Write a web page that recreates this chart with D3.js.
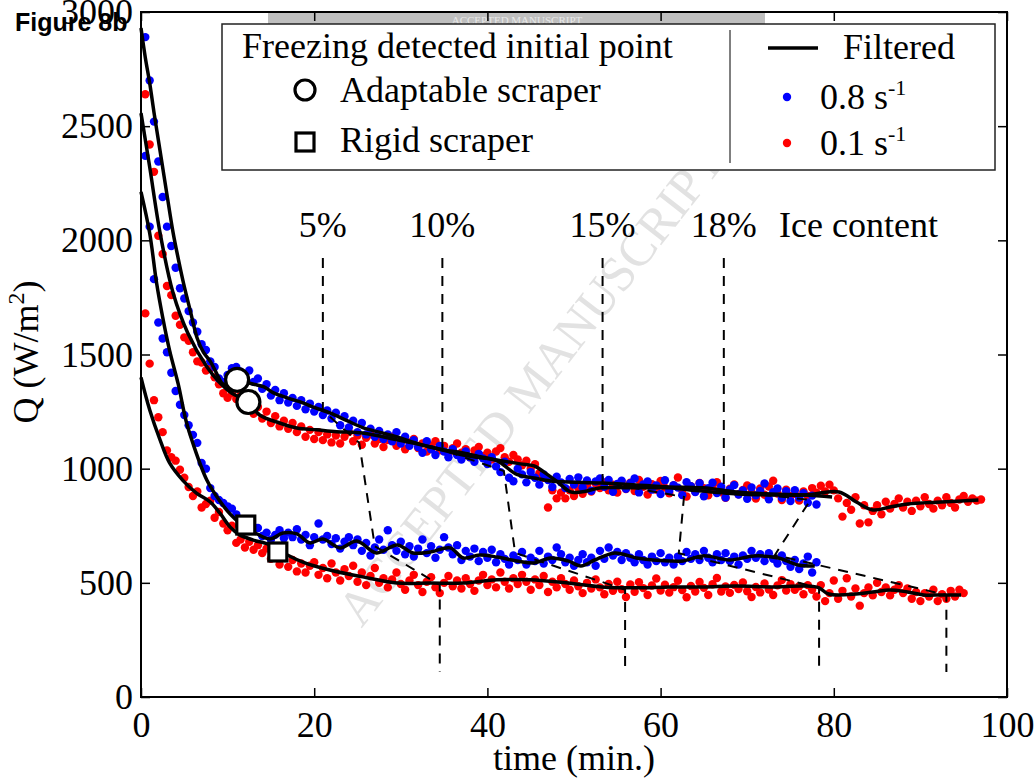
<!DOCTYPE html>
<html>
<head>
<meta charset="utf-8">
<script src="https://cdn.jsdelivr.net/npm/d3@7"></script>
<style>
body { margin: 0; background: #fff; }
svg { display: block; font-family: "Liberation Serif", "Times New Roman", serif; }
</style>
</head>
<body>
<svg id="chart" width="1034" height="783"></svg>
<script>
// ---- data (time in min, Q in W/m2) ----
// raw samples, one every half minute starting at t = 0.5
const sampleStart = 0.5, sampleStep = 0.5;

// adaptable scraper, 0.8 s-1 (blue, upper)
const adapt08 = [
  2890, 2700, 2520, 2345, 2190, 2060, 1975, 1880, 1790, 1745,
  1690, 1640, 1600, 1545, 1520, 1470, 1445, 1395, 1380, 1410,
  1440, 1445, 1425, 1400, 1430, 1380, 1395, 1350, 1370, 1320,
  1345, 1300, 1330, 1290, 1310, 1275, 1300, 1260, 1285, 1250,
  1270, 1235, 1255, 1220, 1245, 1190, 1230, 1180, 1210, 1160,
  1200, 1150, 1175, 1140, 1165, 1130, 1150, 1120, 1160, 1110,
  1140, 1100, 1125, 1095, 1070, 1120, 1085, 1060, 1100, 1075,
  1050, 1085, 1060, 1040, 1075, 1050, 1030, 1065, 1045, 1020,
  1050, 1010, 985, 1030, 960, 945, 1000, 975, 940, 985,
  960, 930, 975, 950, 920, 965, 940, 915, 955, 930,
  962, 918, 948, 903, 944, 957, 921, 951, 899, 933,
  947, 912, 936, 957, 896, 931, 944, 908, 927, 889,
  949, 902, 928, 917, 884, 941, 923, 898, 936, 879,
  914, 938, 893, 921, 874, 909, 928, 887, 905, 868,
  918, 883, 902, 935, 866, 897, 913, 872, 901, 858,
  906, 874, 893, 851, 882, 843
];
// adaptable scraper, 0.1 s-1 (red, upper)
const adapt01 = [
  2640, 2420, 2300, 2020, 1940, 1800, 1760, 1670, 1630, 1575,
  1560, 1510, 1470, 1465, 1430, 1440, 1400, 1370, 1330, 1310,
  1330, 1305, 1320, 1290, 1300, 1240, 1270, 1220, 1250, 1200,
  1230, 1185, 1210, 1175, 1200, 1160, 1185, 1140, 1170, 1130,
  1160, 1125, 1150, 1115, 1145, 1110, 1140, 1160, 1120, 1145,
  1105, 1135, 1150, 1110, 1130, 1095, 1125, 1140, 1100, 1120,
  1085, 1115, 1130, 1090, 1110, 1075, 1100, 1120, 1080, 1100,
  1065, 1090, 1110, 1070, 1085, 1050, 1080, 1095, 1055, 1070,
  1040, 1075, 1090, 1050, 1030, 1060, 1040, 1015, 1035, 1000,
  1020, 980, 960, 830, 905, 870, 895, 870, 905, 880,
  915, 890, 925, 900, 935, 915, 940, 905, 930, 895,
  943, 911, 938, 902, 951, 921, 887, 932, 908, 946,
  917, 892, 927, 961, 904, 878, 923, 899, 937, 914,
  883, 918, 941, 897, 872, 912, 931, 888, 907, 926,
  896, 869, 913, 886, 922, 947, 891, 863, 908, 879,
  890, 860, 900, 880, 915, 895, 925, 900, 930, 905,
  870, 790, 850, 820, 875, 760, 840, 765, 815, 840,
  800, 855, 825, 845, 870, 830, 855, 815, 860, 835,
  875, 845, 825, 860, 840, 875, 850, 830, 865, 880,
  855, 870, 860, 865
];
// rigid scraper, 0.8 s-1 (blue, lower)
const rigid08 = [
  2370, 2060, 1830, 1640, 1570, 1510, 1420, 1340, 1280, 1235,
  1190, 1148, 1113, 1025, 1000, 915, 880, 863, 850, 835,
  825, 800, 775, 770, 755, 745, 740, 705, 720, 690,
  710, 730, 695, 720, 700, 735, 690, 710, 665, 700,
  760, 690, 705, 670, 695, 650, 680, 700, 665, 690,
  640, 675, 620, 655, 690, 645, 730, 665, 640, 680,
  625, 660, 615, 650, 690, 630, 660, 610, 645, 700,
  655, 625, 665, 600, 640, 615, 650, 595, 635, 610,
  645, 590, 625, 605, 580, 620, 600, 635, 580, 610,
  595, 640, 585, 615, 600, 655, 625, 590, 610, 575,
  600, 625, 590, 610, 575, 640, 605, 655, 620, 635,
  600, 630, 610, 590, 625, 600, 580, 615, 595, 630,
  590, 610, 580, 615, 595, 635, 605, 625, 600, 640,
  610, 590, 625, 600, 630, 595, 615, 580, 620, 605,
  640, 610, 625, 595, 630, 605, 585, 620, 595, 570,
  600, 560, 585, 615, 545, 590
];
// rigid scraper, 0.1 s-1 (red, lower)
const rigid01 = [
  1680, 1460, 1300, 1225, 1160, 1080, 1050, 1035, 995, 960,
  920, 880, 900, 830, 845, 860, 785, 810, 760, 730,
  750, 675, 690, 655, 680, 645, 665, 630, 650, 605,
  640, 580, 610, 570, 600, 550, 585, 545, 575, 590,
  535, 565, 520, 585, 545, 510, 560, 530, 575, 505,
  545, 490, 530, 565, 500, 520, 480, 515, 545, 495,
  470, 510, 535, 490, 460, 505, 525, 480, 455, 500,
  530, 485, 510, 475, 520, 495, 465, 510, 535, 490,
  515, 480, 545, 505, 475, 520, 495, 535, 505, 470,
  515, 490, 530, 460, 505, 480, 520, 495, 470, 510,
  485, 455, 500, 475, 515, 480, 450, 495, 465, 505,
  472, 438, 493, 461, 503, 477, 447, 488, 519, 466,
  492, 457, 481, 509, 468, 437, 486, 462, 504, 478,
  447, 494, 521, 462, 484, 456, 491, 473, 502, 463,
  438, 482, 458, 497, 471, 447, 489, 512, 466, 494,
  470, 485, 450, 490, 470, 440, 490, 420, 455, 510,
  430, 465, 520, 440, 475, 400, 455, 480, 445, 500,
  460, 480, 445, 470, 490, 455, 475, 430, 460, 420,
  455, 440, 470, 420, 450, 430, 465, 440, 470, 455
];

// filtered curves: times and values
const filtA08T = [0, 0.5, 1, 1.5, 2, 2.5, 3, 3.7, 4.3, 4.9, 5.7, 6.5, 7.2, 8.0, 8.7, 9.5, 10.3, 11.1, 12, 13, 14.2, 15.3, 16.9, 18.7, 20, 21.8, 23.8, 25.6, 27.5, 29.6, 31.5, 33.4, 35.3, 37.2, 39.2, 41.1, 43.4, 45.4, 47.3, 49.3, 53.2, 57.2, 61.0, 64.9, 68.8, 72.7, 76.7, 79.8];
const filtA08Q = [2930, 2800, 2690, 2560, 2440, 2320, 2200, 2035, 1920, 1814, 1690, 1570, 1510, 1470, 1420, 1370, 1375, 1389, 1380, 1370, 1358, 1332, 1310, 1288, 1268, 1244, 1210, 1180, 1160, 1139, 1115, 1095, 1080, 1069, 1052, 1035, 975, 959, 946, 942, 937, 929, 920, 916, 898, 889, 885, 876];
const filtA01T = [0, 1, 2.2, 3.7, 5.4, 7.6, 9.1, 10.5, 12.4, 13.7, 16.0, 18.0, 20.3, 22.6, 25.6, 29.6, 33.4, 37.2, 41.1, 43.8, 45.4, 46.5, 48.1, 49.6, 50.8, 53.2, 57.2, 61.0, 63.4, 68.9, 72.8, 76.7, 80.6, 82.6, 84.5, 86.5, 88.5, 92.4, 96.7];
const filtA01Q = [2557, 2322, 2033, 1770, 1594, 1446, 1376, 1330, 1292, 1235, 1200, 1178, 1170, 1162, 1156, 1126, 1095, 1060, 1038, 1021, 1012, 986, 942, 898, 898, 916, 916, 916, 907, 889, 885, 885, 898, 854, 819, 832, 845, 854, 863];
const filtR08T = [0, 1.0, 1.8, 2.5, 3.3, 4.3, 5.2, 6.0, 7.6, 9.1, 10.3, 11.4, 12.2, 13.4, 14.9, 16.4, 18.0, 19.5, 21.0, 23.0, 24.9, 27.2, 29.6, 31.4, 33.4, 35.7, 37.2, 39.1, 41.1, 43.4, 45.4, 47.3, 49.3, 50.8, 52.4, 54.7, 57.2, 59.1, 61.0, 62.6, 64.9, 68.0, 70.8, 73.6, 75.9, 77.8];
const filtR08Q = [2212, 2032, 1813, 1664, 1518, 1370, 1210, 1110, 950, 858, 801, 762, 740, 714, 692, 718, 714, 675, 692, 653, 683, 631, 666, 631, 635, 653, 609, 622, 613, 596, 587, 609, 596, 574, 600, 631, 609, 600, 596, 596, 618, 600, 618, 609, 578, 574];
const filtR01T = [0, 1.0, 2.2, 3.3, 4.8, 6.4, 8.0, 9.1, 10.3, 11.4, 12.9, 14.9, 16.9, 18.7, 21.8, 25.6, 29.6, 33.4, 37.2, 41.1, 44.9, 49.3, 53.2, 57.2, 61.0, 64.9, 68.8, 72.7, 76.7, 78.3, 79.4, 82.6, 84.5, 86.5, 88.5, 90.4, 92.4, 94.7];
const filtR01Q = [1400, 1258, 1126, 1025, 950, 893, 854, 806, 744, 710, 688, 666, 622, 591, 556, 526, 499, 499, 499, 513, 513, 499, 482, 478, 482, 482, 486, 482, 486, 478, 451, 451, 460, 469, 460, 447, 447, 447];

// freezing detected initial points
const circleT = [11.1, 12.4], circleQ = [1389, 1292];
const squareT = [12.1, 15.8], squareQ = [753, 635];

// ice content guides: time reached in each run and Q there
const iceLabels = ["5%", "10%", "15%", "18%"];
const iceTimeA08 = [21.0, 34.8, 53.3, 67.3];
const iceQA08    = [1255, 1082, 940, 905];
const iceTimeA01 = [25.2, 41.9, 62.7, 77.3];
const iceQA01    = [1113, 990, 876, 863];
const iceTimeR08 = [27.0, 43.2, 62.1, 73.2];
const iceQR08    = [660, 631, 630, 622];
const iceTimeR01 = [34.5, 55.9, 78.3, 93.0];
const iceQR01    = [491, 470, 478, 447];
const iceTopQ = 1923, iceBottomQ = 110;

const xTicks = [0, 20, 40, 60, 80, 100];
const yTicks = [0, 500, 1000, 1500, 2000, 2500, 3000];

// ---- drawing ----
const svg = d3.select("#chart");
const width = 1034, height = 783;
const margin = { top: 12, right: 27, bottom: 86, left: 141 };

const x = d3.scaleLinear().domain([0, 100]).range([margin.left, width - margin.right]);
const y = d3.scaleLinear().domain([0, 3000]).range([height - margin.bottom, margin.top]);

const blue = "#0000ff", red = "#ff0000";

// watermark behind everything
svg.append("text")
  .attr("transform", "translate(535,388) rotate(-52)")
  .attr("text-anchor", "middle")
  .attr("dominant-baseline", "middle")
  .style("font-size", "50px")
  .style("fill", "#e2e2e2")
  .text("ACCEPTED MANUSCRIPT");

// banner at the top
svg.append("rect").attr("x", 268).attr("y", 13).attr("width", 497).attr("height", 14).attr("fill", "#bfbfbf");
svg.append("text").attr("x", 517).attr("y", 24).attr("text-anchor", "middle")
  .style("font-size", "11px").style("fill", "#e8e8e8").text("ACCEPTED MANUSCRIPT");

// axes (ticks inside, mirrored)
const tickStyle = g => {
  g.select(".domain").remove();
  g.selectAll(".tick line").attr("stroke", "#000").attr("stroke-width", 1.5);
  g.selectAll(".tick text").style("font-size", "36px").style("font-family", "Liberation Serif, serif").attr("fill", "#000");
};
svg.append("g").attr("transform", `translate(0,${y(0)})`)
  .call(d3.axisBottom(x).tickValues(xTicks).tickFormat(d3.format("d")).tickSize(-9).tickPadding(14)).call(tickStyle);
svg.append("g").attr("transform", `translate(0,${y(3000)})`)
  .call(d3.axisTop(x).tickValues(xTicks).tickSize(-9).tickFormat(() => "")).call(tickStyle);
svg.append("g").attr("transform", `translate(${x(0)},0)`)
  .call(d3.axisLeft(y).tickValues(yTicks).tickFormat(d3.format("d")).tickSize(-9).tickPadding(8)).call(tickStyle);
svg.append("g").attr("transform", `translate(${x(100)},0)`)
  .call(d3.axisRight(y).tickValues(yTicks).tickSize(-9).tickFormat(() => "")).call(tickStyle);

// raw samples
const toPoints = vals => vals.map((q, i) => ({ t: sampleStart + i * sampleStep, q: q }));
const drawDots = (vals, color) => {
  svg.append("g").selectAll("circle").data(toPoints(vals)).enter().append("circle")
    .attr("cx", d => x(d.t)).attr("cy", d => y(d.q)).attr("r", 4.2).attr("fill", color);
};
drawDots(adapt01, red);
drawDots(rigid01, red);
drawDots(adapt08, blue);
drawDots(rigid08, blue);

// ice content dashed guides
const guideLine = d3.line().x(d => x(d[0])).y(d => y(d[1]));
iceLabels.forEach((lab, i) => {
  const pts = [
    [iceTimeA08[i], iceTopQ], [iceTimeA08[i], iceQA08[i]],
    [iceTimeA01[i], iceQA01[i]], [iceTimeR08[i], iceQR08[i]],
    [iceTimeR01[i], iceQR01[i]], [iceTimeR01[i], iceBottomQ]
  ];
  svg.append("path").attr("d", guideLine(pts))
    .attr("fill", "none").attr("stroke", "#000").attr("stroke-width", 2)
    .attr("stroke-dasharray", "10,8");
  svg.append("text").attr("x", x(iceTimeA08[i])).attr("y", 237)
    .attr("text-anchor", "middle").style("font-size", "36px").text(lab);
});
svg.append("text").attr("x", 779).attr("y", 237).style("font-size", "36px").text("Ice content");

// filtered curves
const curve = d3.line().x(d => x(d[0])).y(d => y(d[1])).curve(d3.curveCatmullRom.alpha(0.5));
[[filtA08T, filtA08Q], [filtA01T, filtA01Q], [filtR08T, filtR08Q], [filtR01T, filtR01Q]].forEach(([ts, qs]) => {
  svg.append("path").attr("d", curve(ts.map((t, i) => [t, qs[i]])))
    .attr("fill", "none").attr("stroke", "#000").attr("stroke-width", 3.5)
    .attr("stroke-linejoin", "round");
});

// initial freezing markers
circleT.forEach((t, i) => {
  svg.append("circle").attr("cx", x(t)).attr("cy", y(circleQ[i])).attr("r", 11.5)
    .attr("fill", "#fff").attr("stroke", "#000").attr("stroke-width", 3.2);
});
squareT.forEach((t, i) => {
  svg.append("rect").attr("x", x(t) - 9).attr("y", y(squareQ[i]) - 9).attr("width", 18).attr("height", 18)
    .attr("fill", "#fff").attr("stroke", "#000").attr("stroke-width", 3.2);
});

// plot frame
svg.append("rect").attr("x", x(0)).attr("y", y(3000)).attr("width", x(100) - x(0)).attr("height", y(0) - y(3000))
  .attr("fill", "none").attr("stroke", "#000").attr("stroke-width", 2);

// legend
const leg = svg.append("g");
leg.append("rect").attr("x", 222).attr("y", 24).attr("width", 773).attr("height", 146)
  .attr("fill", "#fff").attr("stroke", "#222").attr("stroke-width", 1.5);
leg.append("line").attr("x1", 730).attr("x2", 730).attr("y1", 30).attr("y2", 163)
  .attr("stroke", "#000").attr("stroke-width", 1);
leg.append("text").attr("x", 242).attr("y", 58).style("font-size", "36px").text("Freezing detected initial point");
leg.append("circle").attr("cx", 305).attr("cy", 90).attr("r", 10)
  .attr("fill", "#fff").attr("stroke", "#000").attr("stroke-width", 3.2);
leg.append("text").attr("x", 340).attr("y", 102).style("font-size", "36px").text("Adaptable scraper");
leg.append("rect").attr("x", 296).attr("y", 133).attr("width", 18).attr("height", 18)
  .attr("fill", "#fff").attr("stroke", "#000").attr("stroke-width", 3.2);
leg.append("text").attr("x", 340).attr("y", 152).style("font-size", "36px").text("Rigid scraper");
leg.append("line").attr("x1", 768).attr("x2", 818).attr("y1", 48).attr("y2", 48)
  .attr("stroke", "#000").attr("stroke-width", 3.5);
leg.append("text").attr("x", 843).attr("y", 59).style("font-size", "36px").text("Filtered");
leg.append("circle").attr("cx", 787).attr("cy", 97).attr("r", 4.2).attr("fill", blue);
const t1 = leg.append("text").attr("x", 820).attr("y", 109).style("font-size", "36px");
t1.append("tspan").text("0.8 s");
t1.append("tspan").attr("dy", -14).style("font-size", "22px").text("-1");
leg.append("circle").attr("cx", 787).attr("cy", 143).attr("r", 4.2).attr("fill", red);
const t2 = leg.append("text").attr("x", 820).attr("y", 155).style("font-size", "36px");
t2.append("tspan").text("0.1 s");
t2.append("tspan").attr("dy", -14).style("font-size", "22px").text("-1");

// axis titles
svg.append("text").attr("x", (x(0) + x(100)) / 2).attr("y", 770).attr("text-anchor", "middle")
  .style("font-size", "36px").text("time (min.)");
const yl = svg.append("text").attr("transform", "translate(38,352) rotate(-90)")
  .attr("text-anchor", "middle").style("font-size", "36px");
yl.append("tspan").text("Q (W/m");
yl.append("tspan").attr("dy", -14).style("font-size", "24px").text("2");
yl.append("tspan").attr("dy", 14).text(")");

// figure tag
svg.append("text").attr("x", 15).attr("y", 31)
  .style("font-family", "Liberation Sans, Arial, sans-serif").style("font-weight", "bold").style("font-size", "25px")
  .text("Figure 8b");
</script>
</body>
</html>
